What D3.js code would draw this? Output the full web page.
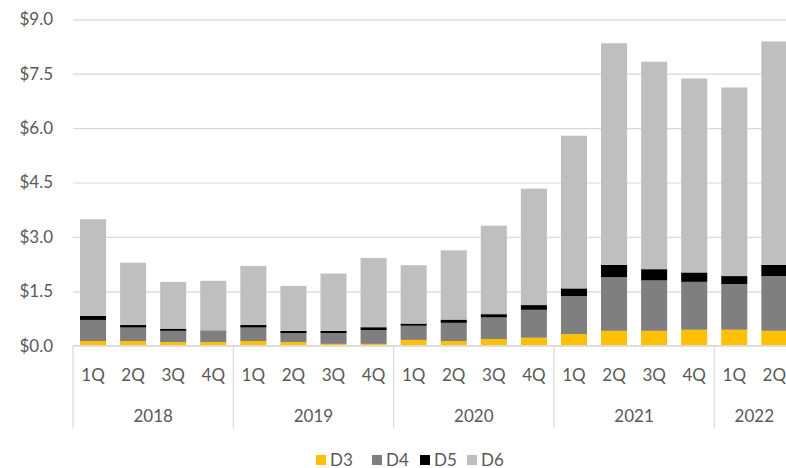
<!DOCTYPE html>
<html>
<head>
<meta charset="utf-8">
<script src="https://cdn.jsdelivr.net/npm/d3@7"></script>
<style>
  body { margin: 0; background: #fff; }
  svg { display: block; font-family: Lato, "Open Sans", sans-serif; }
</style>
</head>
<body>
<div id="chart"></div>
<script>
// Data
const quarters = ["1Q","2Q","3Q","4Q","1Q","2Q","3Q","4Q","1Q","2Q","3Q","4Q","1Q","2Q","3Q","4Q","1Q","2Q"];
const years = ["2018","2019","2020","2021","2022"];
const yearSizes = [4, 4, 4, 4, 2];
const d3Vals = [0.13,0.13,0.10,0.10,0.13,0.10,0.05,0.05,0.16,0.13,0.18,0.22,0.32,0.41,0.41,0.44,0.44,0.41];
const d4Vals = [0.58,0.37,0.31,0.31,0.37,0.25,0.30,0.38,0.39,0.50,0.60,0.77,1.05,1.48,1.39,1.32,1.26,1.51];
const d5Vals = [0.11,0.07,0.06,0.01,0.07,0.06,0.06,0.08,0.06,0.09,0.09,0.13,0.21,0.34,0.31,0.26,0.22,0.31];
const d6Vals = [2.67,1.72,1.29,1.37,1.63,1.24,1.58,1.91,1.61,1.91,2.44,3.21,4.21,6.11,5.72,5.35,5.20,6.16];
const seriesKeys = ["D3","D4","D5","D6"];
const seriesColors = ["#FFC000","#7F7F7F","#000000","#BFBFBF"];
const yTicks = [0, 1.5, 3, 4.5, 6, 7.5, 9];

const width = 786, height = 468;
const plotLeft = 73, plotRight = 794.4, plotTop = 19.3, plotBottom = 345.7;

const rows = quarters.map((q, i) => ({
    idx: i, D3: d3Vals[i], D4: d4Vals[i], D5: d5Vals[i], D6: d6Vals[i]
}));

const svg = d3.select("#chart").append("svg")
    .attr("width", width)
    .attr("height", height);

// Scales
const x = d3.scaleBand()
    .domain(rows.map(d => d.idx))
    .range([plotLeft, plotRight])
    .paddingInner(0.35)
    .paddingOuter(0.175);

const y = d3.scaleLinear()
    .domain([0, 9])
    .range([plotBottom, plotTop]);

const color = d3.scaleOrdinal().domain(seriesKeys).range(seriesColors);

// Gridlines + y labels
const yAxis = svg.append("g")
    .attr("transform", "translate(" + plotLeft + ",0)")
    .call(d3.axisLeft(y).tickValues(yTicks).tickSize(-(width - plotLeft)).tickFormat(d => "$" + d.toFixed(1)));
yAxis.select(".domain").remove();
yAxis.selectAll(".tick line").attr("stroke", "#D9D9D9").attr("stroke-width", 1.2);
yAxis.selectAll(".tick text")
    .attr("x", -20)
    .attr("fill", "#595959")
    .style("font-size", "17px")
    .style("font-family", "Lato, sans-serif");

// Stacked bars
const stacked = d3.stack().keys(seriesKeys)(rows);
svg.append("g").selectAll("g")
    .data(stacked)
    .enter().append("g")
    .attr("fill", d => color(d.key))
    .selectAll("rect")
    .data(d => d)
    .enter().append("rect")
    .attr("x", d => x(d.data.idx))
    .attr("width", x.bandwidth())
    .attr("y", d => y(d[1]))
    .attr("height", d => y(d[0]) - y(d[1]));

// Baseline
svg.append("line")
    .attr("x1", plotLeft).attr("x2", width)
    .attr("y1", plotBottom).attr("y2", plotBottom)
    .attr("stroke", "#D9D9D9").attr("stroke-width", 1.2);

// Quarter labels
svg.append("g").selectAll("text")
    .data(rows)
    .enter().append("text")
    .attr("x", d => x(d.idx) + x.bandwidth() / 2)
    .attr("y", 381)
    .attr("text-anchor", "middle")
    .attr("fill", "#595959")
    .style("font-size", "17px")
    .text((d, i) => quarters[i]);

// Year groups: separators and labels
let start = 0;
const groups = years.map((yr, i) => {
    const g = { year: yr, start: start, size: yearSizes[i] };
    start += yearSizes[i];
    return g;
});
const step = x.step();
svg.append("g").selectAll("line")
    .data(groups.concat([{ start: start }]))
    .enter().append("line")
    .attr("x1", d => plotLeft + d.start * step)
    .attr("x2", d => plotLeft + d.start * step)
    .attr("y1", plotBottom)
    .attr("y2", 428)
    .attr("stroke", "#D9D9D9")
    .attr("stroke-width", 1.2);

svg.append("g").selectAll("text")
    .data(groups)
    .enter().append("text")
    .attr("x", d => plotLeft + (d.start + d.size / 2) * step)
    .attr("y", 422)
    .attr("text-anchor", "middle")
    .attr("fill", "#595959")
    .style("font-size", "17px")
    .text(d => d.year);

// Legend
const legendX = [316, 372, 420, 467];
const legend = svg.append("g").selectAll("g")
    .data(seriesKeys)
    .enter().append("g")
    .attr("transform", (d, i) => "translate(" + legendX[i] + ",455)");
legend.append("rect")
    .attr("width", 10).attr("height", 10)
    .attr("fill", d => color(d));
legend.append("text")
    .attr("x", 14)
    .attr("y", 10.5)
    .attr("fill", "#595959")
    .style("font-size", "17px")
    .text(d => d);
</script>
</body>
</html>
